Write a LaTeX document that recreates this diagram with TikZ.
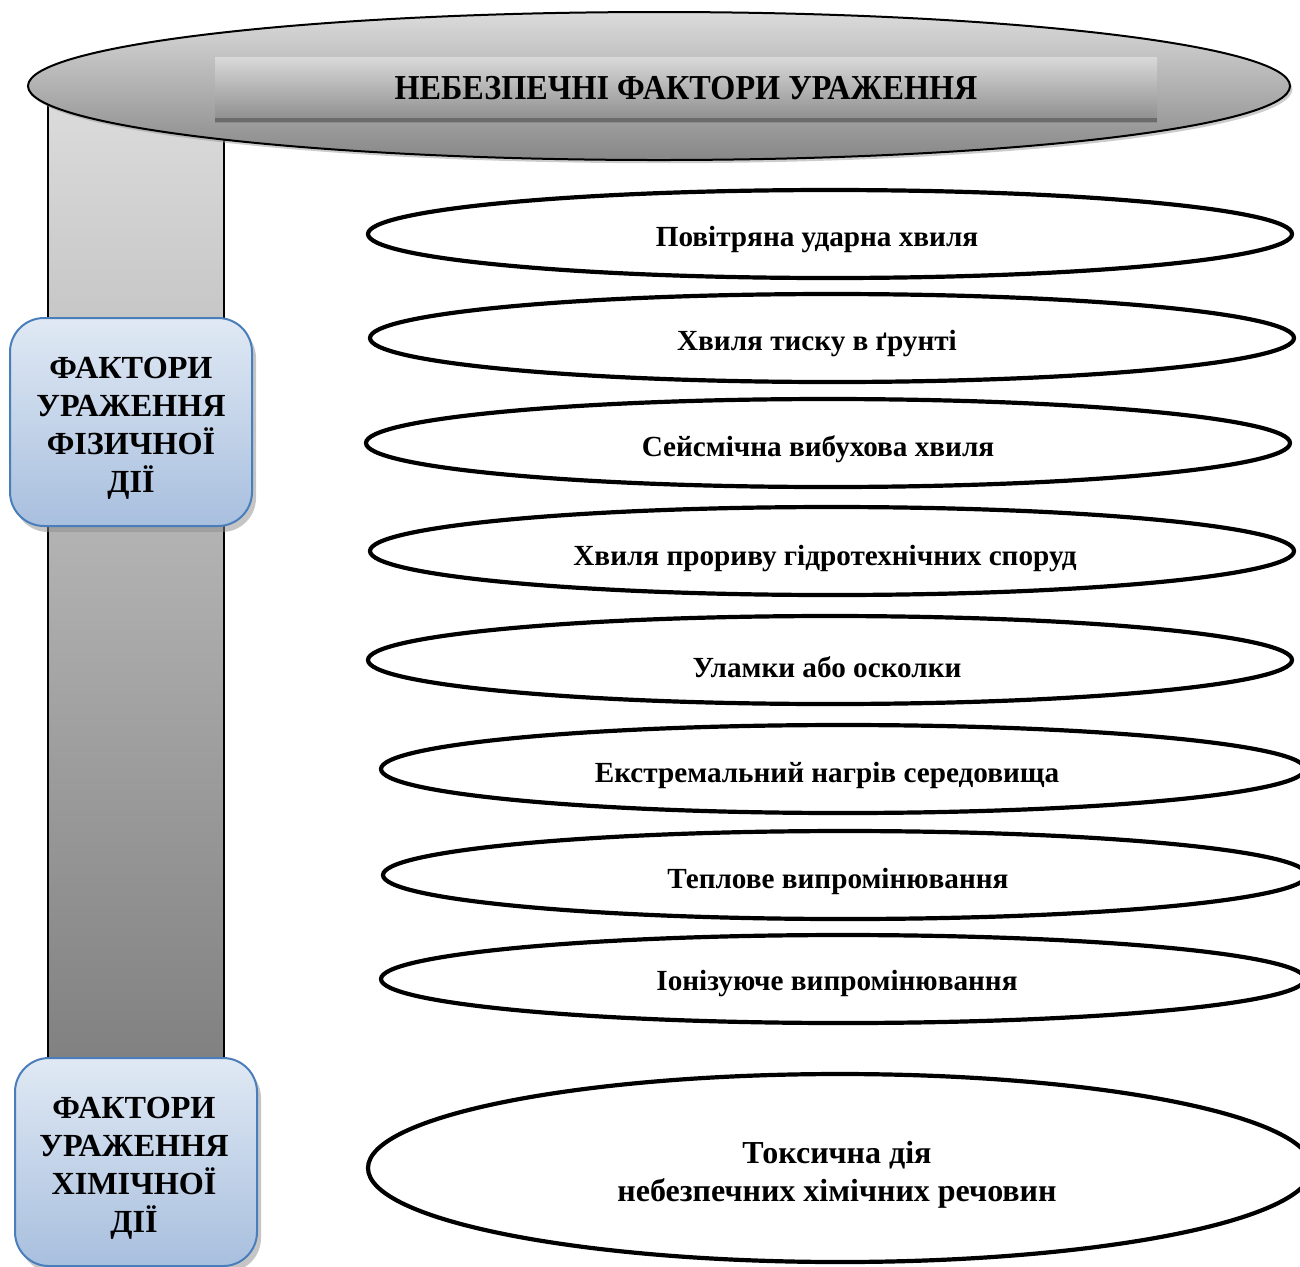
\documentclass[tikz,border=0pt]{standalone}
\usepackage{fontspec}
\setmainfont{Liberation Serif}
\newfontfamily\titlefont[FakeStretch=0.92]{Liberation Serif}
\usetikzlibrary{shapes.geometric,shadows}
\definecolor{boxtop}{HTML}{E0E9F4}
\definecolor{boxbot}{HTML}{A8BFDE}
\definecolor{boxline}{HTML}{4A7EBB}
\tikzset{
  factor/.style={ellipse, draw=black, line width=2.1pt, fill=white, minimum width=462pt, minimum height=44pt, inner sep=0pt,
     drop shadow={shadow xshift=0.6pt, shadow yshift=-0.8pt, fill=black!35}},
  factortext/.style={font=\bfseries\fontsize{14.6}{19}\selectfont, align=center},
  groupbox/.style={rounded corners=17pt, draw=boxline, line width=1pt, shading=axis, top color=boxtop, bottom color=boxbot,
     minimum width=121pt, minimum height=104pt, inner sep=0pt,
     drop shadow={shadow xshift=2pt, shadow yshift=-3pt, fill=black!45}},
  grouptext/.style={align=center, font=\bfseries\fontsize{16.1}{19}\selectfont},
}
\begin{document}
\begin{tikzpicture}[x=0.5pt,y=-0.5pt]
\useasboundingbox (0,0) rectangle (1300,1266);
\clip (0,0) rectangle (1300,1266);
% column
\draw[line width=0.8pt, shading=axis, top color=black!14, bottom color=black!50] (48,100) rectangle (224,1075);
% top ellipse
\node[ellipse, draw=black, line width=1pt, shading=axis, top color=black!14, bottom color=black!47,
      minimum width=631pt, minimum height=74pt, inner sep=0pt,
      drop shadow={shadow xshift=1.2pt, shadow yshift=-1.6pt, fill=black!40}] (top) at (659,86) {};
\node[shading=axis, top color=black!15, bottom color=black!45, minimum width=471pt, minimum height=32.5pt, inner sep=0pt] (titlebar) at (686,89.5) {};
\fill[black!58] (215,118) rectangle (1157,122);
\node[font=\titlefont\bfseries\fontsize{17.5}{20}\selectfont] (title) at (686,88) {НЕБЕЗПЕЧНІ ФАКТОРИ УРАЖЕННЯ};
% group boxes
\node[groupbox] (phys) at (131,422) {};
\node[grouptext] (physt) at (131,428) {ФАКТОРИ\\УРАЖЕННЯ\\ФІЗИЧНОЇ\\ДІЇ};
\node[groupbox] (chem) at (136,1162) {};
\node[grouptext] (chemt) at (134,1168) {ФАКТОРИ\\УРАЖЕННЯ\\ХІМІЧНОЇ\\ДІЇ};
% factor ellipses
\node[factor] (e1) at (830,234) {};
\node[factortext] (t1) at (817,240) {Повітряна ударна хвиля};
\node[factor] (e2) at (832,338) {};
\node[factortext] (t2) at (817,344) {Хвиля тиску в ґрунті};
\node[factor] (e3) at (828,443) {};
\node[factortext] (t3) at (818,449) {Сейсмічна вибухова хвиля};
\node[factor] (e4) at (832,551) {};
\node[factortext] (t4) at (825,559) {Хвиля прориву гідротехнічних споруд};
\node[factor] (e5) at (830,660) {};
\node[factortext] (t5) at (827,667) {Уламки або осколки};
\node[factor] (e6) at (843,769) {};
\node[factortext] (t6) at (827,775) {Екстремальний нагрів середовища};
\node[factor] (e7) at (845,875) {};
\node[factortext] (t7) at (838,881) {Теплове випромінювання};
\node[factor] (e8) at (843,979) {};
\node[factortext] (t8) at (837,983) {Іонізуюче випромінювання};
\node[factor, minimum width=472pt, minimum height=94pt] (e9) at (840,1168) {};
\node[factortext, font=\bfseries\fontsize{16}{19}\selectfont] (t9) at (837,1175) {Токсична дія\\небезпечних хімічних речовин};
\end{tikzpicture}
\end{document}
